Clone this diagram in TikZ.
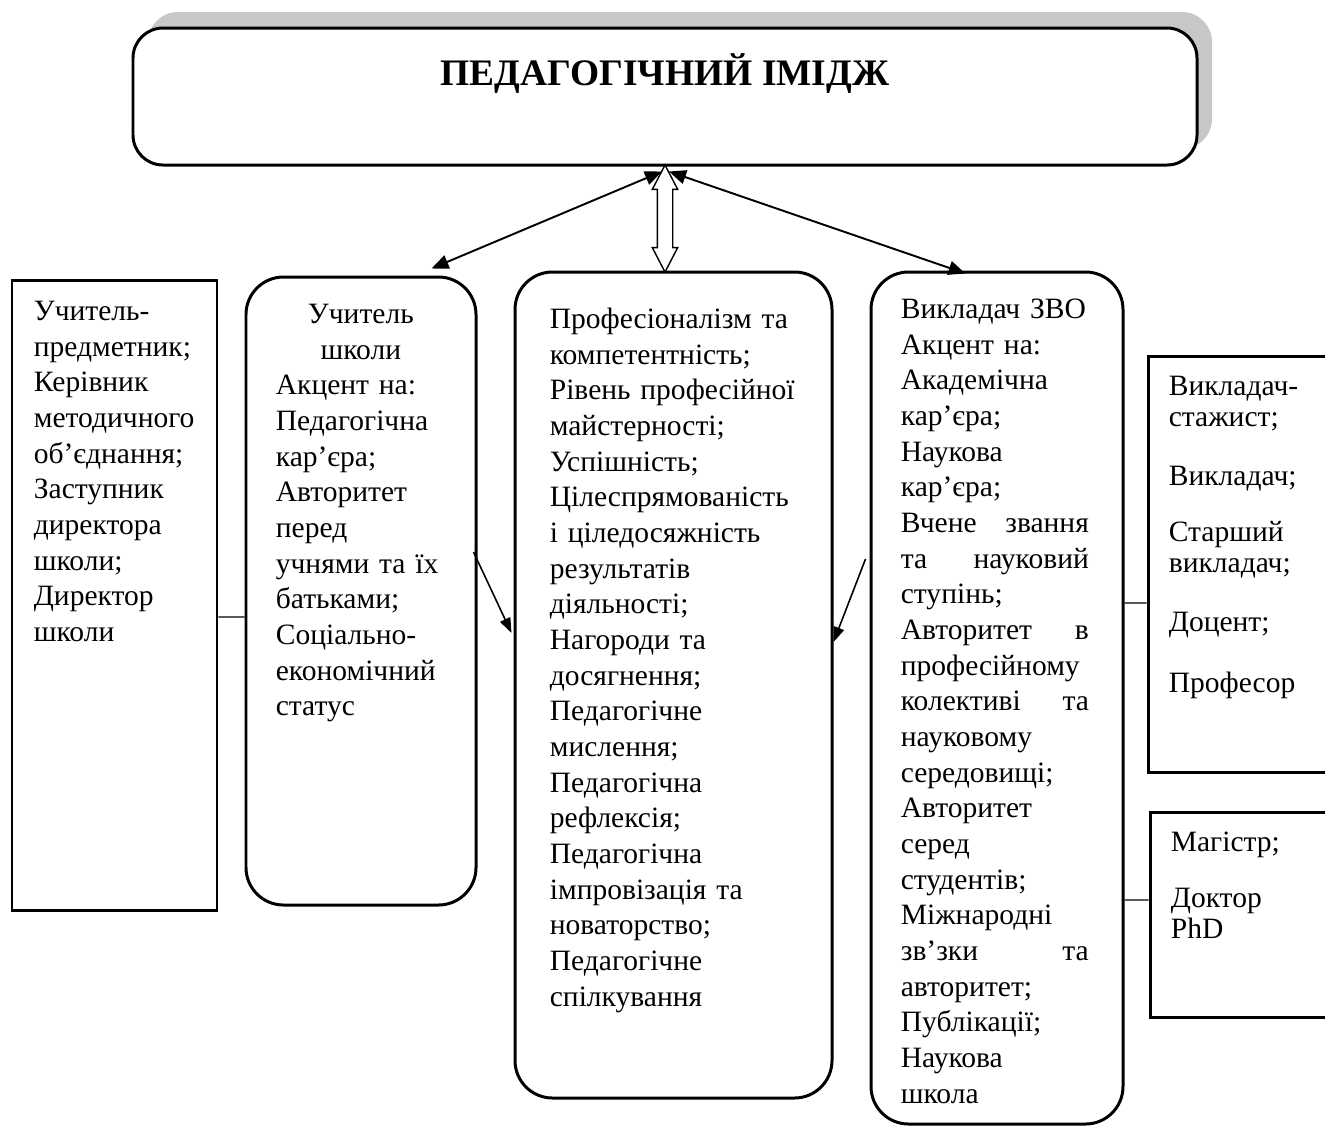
\documentclass[tikz,border=0pt]{standalone}
\usepackage{fontspec}
\setmainfont{Liberation Serif}
\usetikzlibrary{arrows.meta,calc,positioning,shapes.arrows,shadows}

\begin{document}
\begin{tikzpicture}[>=Triangle,
    box/.style={draw, line width=1.7pt, fill=white, inner sep=0pt},
    oval/.style={box, rounded corners=0.75cm},
    txt/.style={inner sep=0pt, anchor=base west, align=left, font=\fontsize{16.8}{20.3}\selectfont},
    list/.style={txt, font=\fontsize{16.8}{17.6}\selectfont},
    link/.style={line width=0.7pt},
    bigarrow/.style={<->, line width=1.1pt, >={Triangle[length=0.34cm,width=0.28cm]}},
    smallarrow/.style={->, line width=0.9pt, >={Triangle[length=0.3cm,width=0.22cm]}}]
  \useasboundingbox (0,0) rectangle (26.5,-22.56);

  \node[box, rounded corners=0.6cm, minimum width=21.28cm, minimum height=2.74cm,
    general shadow={shadow xshift=0.3cm, shadow yshift=0.32cm, fill=black!22}] (title) at (13.30,-1.93) {};
  \node[inner sep=0pt, anchor=base, font=\fontsize{21.3}{25}\selectfont\bfseries] (titletext)
    at ($(title.north)+(0,-1.17)$) {ПЕДАГОГІЧНИЙ ІМІДЖ};

  \node[box, minimum width=4.10cm, minimum height=12.60cm] (roles) at (2.29,-11.90) {};
  \node[oval, minimum width=4.60cm, minimum height=12.56cm] (teacher) at (7.22,-11.82) {};
  \node[oval, minimum width=6.34cm, minimum height=16.52cm] (mid) at (13.47,-13.70) {};
  \node[oval, minimum width=5.04cm, minimum height=17.04cm] (lecturer) at (19.94,-13.96) {};
  \node[box, minimum width=3.94cm, minimum height=8.32cm] (posts) at (24.93,-11.28) {};
  \node[box, minimum width=3.90cm, minimum height=4.10cm] (degrees) at (24.95,-18.29) {};

  \node[txt, text width=3.6cm] (rolestext) at ($(roles.north west)+(0.46,-0.84)$)
    {Учитель-\\предметник;\\Керівник\\методичного\\об’єднання;\\Заступник\\директора\\школи;\\Директор\\школи};
  \node[txt, text width=3.4cm] (teachertext) at ($(teacher.north west)+(0.62,-0.96)$)
    {\makebox[\linewidth]{Учитель}\\\makebox[\linewidth]{школи}\\Акцент на:\\Педагогічна\\кар’єра;\\Авторитет\\перед\\учнями та їх\\батьками;\\Соціально-\\економічний\\статус};
  \node[txt, text width=5.5cm] (midtext) at ($(mid.north west)+(0.72,-1.16)$)
    {Професіоналізм та\\компетентність;\\Рівень професійної\\майстерності;\\Успішність;\\Цілеспрямованість\\і ціледосяжність\\результатів\\діяльності;\\Нагороди та\\досягнення;\\Педагогічне\\мислення;\\Педагогічна\\рефлексія;\\Педагогічна\\імпровізація та\\новаторство;\\Педагогічне\\спілкування};
  \node[txt, text width=3.76cm] (lectext) at ($(lecturer.north west)+(0.62,-0.96)$)
    {Викладач ЗВО\\Акцент на:\\Академічна\\кар’єра;\\Наукова\\кар’єра;\\Вчене\hfill звання\\та\hfill науковий\\ступінь;\\Авторитет\hfill в\\професійному\\колективі\hfill та\\науковому\\середовищі;\\Авторитет\\серед\\студентів;\\Міжнародні\\зв’зки\hfill та\\авторитет;\\Публікації;\\Наукова\\школа};
  \node[list, text width=3.3cm] (poststext) at ($(posts.north west)+(0.44,-0.82)$)
    {Викладач-\\стажист;\\[0.56cm]Викладач;\\[0.5cm]Старший\\викладач;\\[0.56cm]Доцент;\\[0.6cm]Професор};
  \node[list, text width=3.3cm] (degtext) at ($(degrees.north west)+(0.44,-0.82)$)
    {Магістр;\\[0.5cm]Доктор\\PhD};

  \node[double arrow, draw, fill=white, line width=0.8pt, rotate=90, inner xsep=0pt, inner ysep=0.14cm,
    minimum height=2.14cm, minimum width=0.48cm, double arrow head extend=0.1cm, double arrow tip angle=55]
    (dbl) at ($(title.south)!0.5!(title.south |- mid.north)$) {};

  \coordinate (tl) at ($(title.south)+(-0.06,-0.1)$);
  \coordinate (tr) at ($(title.south)+(0.08,-0.1)$);
  \coordinate (bl) at ($(teacher.north east)+(-0.92,0.14)$);
  \coordinate (br) at ($(lecturer.north west)+(1.92,-0.06)$);
  \draw[bigarrow] (tl) -- (bl);
  \draw[bigarrow] (tr) -- (br);

  \draw[smallarrow] ($(teacher.east)+(-0.08,0.78)$) -- ($(mid.west)+(-0.04,1.04)$);
  \draw[smallarrow] ($(lecturer.west)+(-0.08,2.78)$) -- ($(mid.east)+(0,0.86)$);

  \draw[link] ($(roles.east)+(0,-0.44)$) -- ($(teacher.west)+(0,-0.52)$);
  \draw[link] ($(lecturer.east)+(0,1.9)$) -- ($(posts.west)+(0,-0.78)$);
  \draw[link] ($(lecturer.east)+(0,-4.04)$) -- ($(degrees.west)+(0,0.29)$);
\end{tikzpicture}
\end{document}
